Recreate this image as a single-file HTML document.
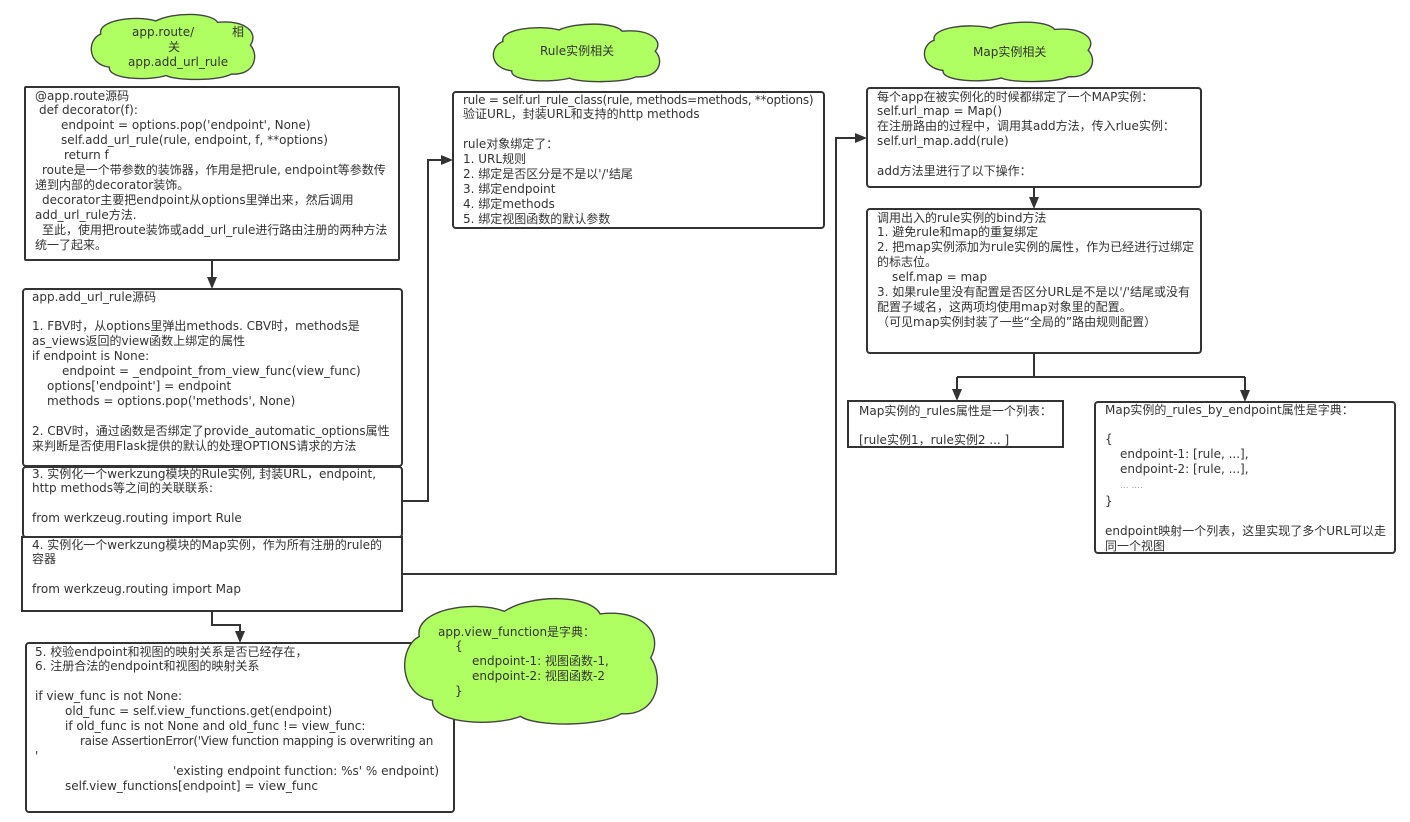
<!DOCTYPE html>
<html>
<head>
<meta charset="utf-8">
<style>
  html,body{margin:0;padding:0;background:#fff;}
  body{width:1410px;height:822px;position:relative;overflow:hidden;}
  svg.bg{position:absolute;left:0;top:0;}
  .t{position:absolute;font-family:"DejaVu Sans","Noto Sans CJK SC",sans-serif;font-size:12px;line-height:14.9px;color:#333;white-space:pre;}
  .t div{white-space:pre;}
  .dots{color:#999;font-size:9px;}
  .n{letter-spacing:-0.25px;}
</style>
</head>
<body>
<svg class="bg" width="1410" height="822" viewBox="0 0 1410 822">
  <g fill="#fff" stroke="#333" stroke-width="2">
    <rect x="25" y="87" width="374" height="173" rx="1"/>
    <rect x="23" y="289" width="379" height="177" rx="3"/>
    <rect x="23" y="467" width="379" height="70" rx="3"/>
    <rect x="22" y="537" width="380" height="74" rx="0"/>
    <rect x="26" y="643" width="428" height="169" rx="3"/>
    <rect x="453" y="92" width="371" height="136" rx="3"/>
    <rect x="867" y="88" width="334" height="99" rx="3"/>
    <rect x="867" y="209" width="334" height="144" rx="3"/>
    <rect x="848" y="401" width="215" height="46" rx="0"/>
    <rect x="1095" y="402" width="300" height="151" rx="3"/>
  </g>
  <g fill="none" stroke="#333" stroke-width="2">
    <polyline points="212,260 212,278"/>
    <polyline points="402,501 428,501 428,160 442,160"/>
    <polyline points="402,574 836,574 836,138 856,138"/>
    <polyline points="1034,187 1034,198"/>
    <polyline points="1034,353 1034,377"/>
    <polyline points="957,377 1245,377"/>
    <polyline points="957,377 957,390"/>
    <polyline points="1245,377 1245,391"/>
    <polyline points="212,611 212,625 240,625 240,632"/>
  </g>
  <g fill="#333">
    <polygon points="207,277 217,277 212,289"/>
    <polygon points="441,155 441,165 453,160"/>
    <polygon points="855,133 855,143 867,138"/>
    <polygon points="1029,197 1039,197 1034,209"/>
    <polygon points="952,389 962,389 957,401"/>
    <polygon points="1240,390 1250,390 1245,402"/>
    <polygon points="235,631 245,631 240,643"/>
  </g>
  <!-- clouds -->
  <svg x="87" y="12" width="172" height="69" viewBox="0 0 100 100" preserveAspectRatio="none" overflow="visible">
    <path d="M 8 32 C 6 12, 28 4, 40 13 C 50 0, 72 0, 76 15 C 92 11, 100 30, 95 48 C 100 62, 98 92, 84 90 C 76 100, 52 100, 46 92 C 36 100, 12 98, 13 80 C 0 76, 0 40, 8 32 Z" fill="#b0ff62" stroke="#444" stroke-width="1.4" vector-effect="non-scaling-stroke"/>
  </svg>
  <svg x="489" y="22" width="175" height="61" viewBox="0 0 100 100" preserveAspectRatio="none" overflow="visible">
    <path d="M 8 32 C 6 12, 28 4, 40 13 C 50 0, 72 0, 76 15 C 92 11, 100 30, 95 48 C 100 62, 98 92, 84 90 C 76 100, 52 100, 46 92 C 36 100, 12 98, 13 80 C 0 76, 0 40, 8 32 Z" fill="#b0ff62" stroke="#444" stroke-width="1.4" vector-effect="non-scaling-stroke"/>
  </svg>
  <svg x="920" y="20" width="177" height="63" viewBox="0 0 100 100" preserveAspectRatio="none" overflow="visible">
    <path d="M 8 32 C 6 12, 28 4, 40 13 C 50 0, 72 0, 76 15 C 92 11, 100 30, 95 48 C 100 62, 98 92, 84 90 C 76 100, 52 100, 46 92 C 36 100, 12 98, 13 80 C 0 76, 0 40, 8 32 Z" fill="#b0ff62" stroke="#444" stroke-width="1.4" vector-effect="non-scaling-stroke"/>
  </svg>
  <svg x="398" y="594" width="266" height="133" viewBox="0 0 100 100" preserveAspectRatio="none" overflow="visible">
    <path d="M 8 32 C 6 12, 28 4, 40 13 C 50 0, 72 0, 76 15 C 92 11, 100 30, 95 48 C 100 62, 98 92, 84 90 C 76 100, 52 100, 46 92 C 36 100, 12 98, 13 80 C 0 76, 0 40, 8 32 Z" fill="#b0ff62" stroke="#444" stroke-width="1.4" vector-effect="non-scaling-stroke"/>
  </svg>
</svg>

<!-- cloud texts -->
<div class="t" style="left:132px;top:24.5px;">app.route/</div>
<div class="t" style="left:232px;top:24.5px;">相</div>
<div class="t" style="left:168px;top:39.5px;">关</div>
<div class="t" style="left:128px;top:54.5px;">app.add_url_rule</div>
<div class="t" style="left:540px;top:44px;">Rule实例相关</div>
<div class="t" style="left:973px;top:44.5px;">Map实例相关</div>
<div class="t" style="left:438px;top:624.5px;"><div>app.view_function是字典：</div><div style="padding-left:17px">{</div><div style="padding-left:34px">endpoint-1: 视图函数-1,</div><div style="padding-left:34px">endpoint-2: 视图函数-2</div><div style="padding-left:17px">}</div></div>

<!-- box 1 -->
<div class="t" style="left:35px;top:88.5px;"><div>@app.route源码</div><div style="padding-left:4px">def decorator(f):</div><div style="padding-left:26px">endpoint = options.pop('endpoint', None)</div><div style="padding-left:26px">self.add_url_rule(rule, endpoint, f, **options)</div><div style="padding-left:29px">return f</div><div style="padding-left:7px">route是一个带参数的装饰器，作用是把rule, endpoint等参数传</div><div>递到内部的decorator装饰。</div><div style="padding-left:7px">decorator主要把endpoint从options里弹出来，然后调用</div><div>add_url_rule方法.</div><div style="padding-left:7px">至此，使用把route装饰或add_url_rule进行路由注册的两种方法</div><div>统一了起来。</div></div>

<!-- box 2 -->
<div class="t" style="left:32px;top:289.5px;"><div>app.add_url_rule源码</div><div> </div><div>1. FBV时，从options里弹出methods. CBV时，methods是</div><div>as_views返回的view函数上绑定的属性</div><div>if endpoint is None:</div><div style="padding-left:30px">endpoint = _endpoint_from_view_func(view_func)</div><div style="padding-left:15px">options['endpoint'] = endpoint</div><div style="padding-left:15px">methods = options.pop('methods', None)</div><div> </div><div>2. CBV时，通过函数是否绑定了provide_automatic_options属性</div><div>来判断是否使用Flask提供的默认的处理OPTIONS请求的方法</div></div>

<!-- box 3 -->
<div class="t" style="left:32px;top:466.5px;"><div>3. 实例化一个werkzung模块的Rule实例, 封装URL，endpoint,</div><div>http methods等之间的关联联系:</div><div> </div><div>from werkzeug.routing import Rule</div></div>

<!-- box 4 -->
<div class="t" style="left:32px;top:537.5px;"><div>4. 实例化一个werkzung模块的Map实例，作为所有注册的rule的</div><div>容器</div><div> </div><div>from werkzeug.routing import Map</div></div>

<!-- box 5 -->
<div class="t" style="left:35px;top:644.5px;"><div>5. 校验endpoint和视图的映射关系是否已经存在，</div><div>6. 注册合法的endpoint和视图的映射关系</div><div> </div><div>if view_func is not None:</div><div style="padding-left:30px">old_func = self.view_functions.get(endpoint)</div><div style="padding-left:30px">if old_func is not None and old_func != view_func:</div><div style="padding-left:45px" class="n">raise AssertionError('View function mapping is overwriting an</div><div>'</div><div style="padding-left:138px">'existing endpoint function: %s' % endpoint)</div><div style="padding-left:30px">self.view_functions[endpoint] = view_func</div></div>

<!-- rule box -->
<div class="t" style="left:463px;top:92.5px;"><div class="n">rule = self.url_rule_class(rule, methods=methods, **options)</div><div>验证URL，封装URL和支持的http methods</div><div> </div><div>rule对象绑定了：</div><div>1. URL规则</div><div>2. 绑定是否区分是不是以'/'结尾</div><div>3. 绑定endpoint</div><div>4. 绑定methods</div><div>5. 绑定视图函数的默认参数</div></div>

<!-- map box -->
<div class="t" style="left:877px;top:89.5px;"><div>每个app在被实例化的时候都绑定了一个MAP实例：</div><div>self.url_map = Map()</div><div>在注册路由的过程中，调用其add方法，传入rlue实例：</div><div>self.url_map.add(rule)</div><div> </div><div>add方法里进行了以下操作：</div></div>

<!-- bind box -->
<div class="t" style="left:877px;top:210.5px;"><div>调用出入的rule实例的bind方法</div><div>1. 避免rule和map的重复绑定</div><div>2. 把map实例添加为rule实例的属性，作为已经进行过绑定</div><div>的标志位。</div><div style="padding-left:15px">self.map = map</div><div>3. 如果rule里没有配置是否区分URL是不是以'/'结尾或没有</div><div>配置子域名，这两项均使用map对象里的配置。</div><div>（可见map实例封装了一些“全局的”路由规则配置）</div></div>

<!-- map left -->
<div class="t" style="left:859px;top:403.5px;"><div>Map实例的_rules属性是一个列表：</div><div> </div><div>[rule实例1，rule实例2 ... ]</div></div>

<!-- map right -->
<div class="t" style="left:1105px;top:402.5px;"><div>Map实例的_rules_by_endpoint属性是字典：</div><div> </div><div>{</div><div style="padding-left:15px">endpoint-1: [rule, ...],</div><div style="padding-left:15px">endpoint-2: [rule, ...],</div><div style="padding-left:15px"><span class="dots">... ....</span></div><div>}</div><div> </div><div>endpoint映射一个列表，这里实现了多个URL可以走</div><div>同一个视图</div></div>
</body>
</html>
